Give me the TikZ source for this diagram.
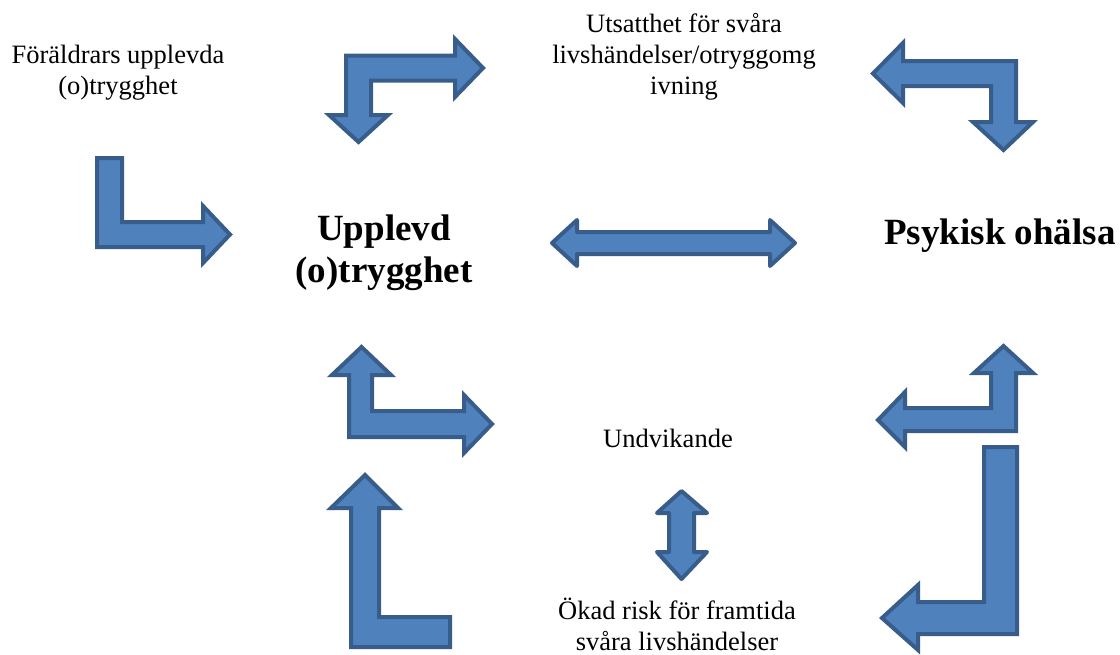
\documentclass[tikz,border=0pt]{standalone}
\usepackage{fontspec}
\setmainfont{Liberation Serif}
\begin{document}
\begin{tikzpicture}[x=1pt,y=-1pt,
  blockarrow/.style={fill={rgb,255:red,79;green,129;blue,189},draw={rgb,255:red,56;green,93;blue,138},line width=4pt,line join=miter},
  roundarrow/.style={blockarrow,line join=round},
  small/.style={font=\fontsize{26.5}{31}\selectfont,align=center,inner sep=0pt},
  big/.style={font=\fontsize{37}{42}\selectfont\bfseries,align=center,inner sep=0pt}]
\useasboundingbox (0,0) rectangle (1120,654);
% texts
\node[small] (parents) at (118,73) {Föräldrars upplevda\\(o)trygghet};
\node[small] (exposure) at (684,57) {Utsatthet för svåra\\livshändelser/otryggomg\\ivning};
\node[big] (felt) at (384,253) {Upplevd\\(o)trygghet};
\node[big] (psych) at (1000,236) {Psykisk ohälsa};
\node[small] (avoid) at (668,438) {Undvikande};
\node[small] (risk) at (677,624) {Ökad risk för framtida\\svåra livshändelser};
% arrow 1 (top left bent)
\draw[blockarrow] (358.5,142) -- (388,115) -- (371,115) -- (371,80.7) -- (455,80.7) -- (455,97) -- (483,68) -- (455,39) -- (455,55.7) -- (346,55.7) -- (346,115) -- (329,115) -- cycle;
% arrow 2 (top right bent)
\draw[blockarrow] (873,73.5) -- (903,103) -- (903,86) -- (991,86) -- (991,122) -- (973,122) -- (1003.5,150) -- (1033,122) -- (1016,122) -- (1016,61) -- (903,61) -- (903,43) -- cycle;
% arrow 3 (left L)
\draw[blockarrow] (97,158) -- (122,158) -- (122,222) -- (203,222) -- (203,206) -- (230,234.5) -- (203,263) -- (203,247) -- (97,247) -- cycle;
% arrow 4 (double horizontal)
\draw[roundarrow] (552,243) -- (577,220) -- (577,232) -- (770,232) -- (770,220) -- (795,243) -- (770,266) -- (770,254) -- (577,254) -- (577,266) -- cycle;
% arrow 5 (bottom left bent up)
\draw[blockarrow] (361.5,347) -- (391,375) -- (372,375) -- (372,411) -- (464,411) -- (464,395) -- (492,424) -- (464,453) -- (464,437) -- (349,437) -- (349,375) -- (332,375) -- cycle;
% arrow 6 (right bent up)
\draw[blockarrow] (1003.5,346) -- (1033,373) -- (1016,373) -- (1016,431) -- (905,431) -- (905,447) -- (878,420) -- (905,392) -- (905,408) -- (991,408) -- (991,373) -- (974,373) -- cycle;
% arrow 7 (bottom left L up)
\draw[blockarrow] (365,475) -- (398,508) -- (379,508) -- (379,617) -- (450,617) -- (450,647) -- (351,647) -- (351,508) -- (331,508) -- cycle;
% arrow 8 (bottom right L left)
\draw[blockarrow] (984,447) -- (1017,447) -- (1017,634) -- (918,634) -- (918,650) -- (882,618) -- (918,585) -- (918,602) -- (984,602) -- cycle;
% arrow 9 (up-down)
\draw[roundarrow] (681.5,491) -- (707,513) -- (694,513) -- (694,552) -- (707,552) -- (681.5,579) -- (657,552) -- (669,552) -- (669,513) -- (657,513) -- cycle;
\end{tikzpicture}
\end{document}
